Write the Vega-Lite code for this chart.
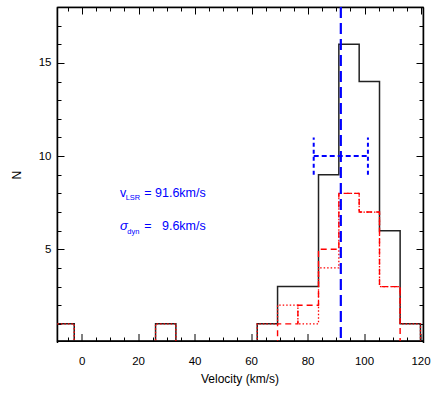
{
  "$schema": "https://vega.github.io/schema/vega-lite/v6.json",
  "width": 366,
  "height": 334,
  "autosize": "none",
  "padding": {"left": 57, "top": 7, "right": 13, "bottom": 52},
  "background": "#ffffff",
  "datasets": {
    "hist": [
      {"series": "all", "x": -10, "n": 1},
      {"series": "all", "x": -2.8, "n": 0},
      {"series": "all", "x": 26.0, "n": 1},
      {"series": "all", "x": 33.2, "n": 0},
      {"series": "all", "x": 62.0, "n": 1},
      {"series": "all", "x": 69.2, "n": 3},
      {"series": "all", "x": 76.4, "n": 3},
      {"series": "all", "x": 83.7, "n": 9},
      {"series": "all", "x": 90.9, "n": 16},
      {"series": "all", "x": 98.1, "n": 14},
      {"series": "all", "x": 105.3, "n": 6},
      {"series": "all", "x": 112.6, "n": 1},
      {"series": "all", "x": 119.8, "n": 0},
      {"series": "all", "x": 125, "n": 0},
      {"series": "dotted", "x": -10, "n": 1},
      {"series": "dotted", "x": -2.8, "n": 0},
      {"series": "dotted", "x": 26.0, "n": 1},
      {"series": "dotted", "x": 33.2, "n": 0},
      {"series": "dotted", "x": 62.0, "n": 1},
      {"series": "dotted", "x": 69.2, "n": 2},
      {"series": "dotted", "x": 76.4, "n": 1},
      {"series": "dotted", "x": 83.7, "n": 4},
      {"series": "dotted", "x": 90.9, "n": 8},
      {"series": "dotted", "x": 98.1, "n": 7},
      {"series": "dotted", "x": 105.3, "n": 3},
      {"series": "dotted", "x": 112.6, "n": 1},
      {"series": "dotted", "x": 119.8, "n": 0},
      {"series": "dotted", "x": 125, "n": 0},
      {"series": "dashed", "x": -10, "n": 0},
      {"series": "dashed", "x": 69.2, "n": 1},
      {"series": "dashed", "x": 76.4, "n": 2},
      {"series": "dashed", "x": 83.7, "n": 5},
      {"series": "dashed", "x": 90.9, "n": 8},
      {"series": "dashed", "x": 98.1, "n": 7},
      {"series": "dashed", "x": 105.3, "n": 3},
      {"series": "dashed", "x": 112.6, "n": 0},
      {"series": "dashed", "x": 125, "n": 0}
    ],
    "fit": [
      {"vlsr": 91.6, "lo": 82.0, "hi": 101.2, "n": 10, "nlo": 9, "nhi": 11}
    ]
  },
  "resolve": {"axis": {"x": "independent", "y": "independent"}},
  "layer": [
    {
      "data": {"name": "hist"},
      "transform": [{"filter": "datum.series === 'all'"}],
      "mark": {"type": "line", "interpolate": "step-after", "color": "#222222", "strokeWidth": 1.5, "clip": true},
      "encoding": {
        "x": {"field": "x", "type": "quantitative", "scale": {"domain": [-8.9, 120.7], "nice": false, "zero": false},
          "axis": {"orient": "bottom", "values": [0, 20, 40, 60, 80, 100, 120], "tickSize": -7, "labelPadding": 22, "domain": true, "domainColor": "#000", "domainWidth": 1.5, "translate": 0, "title": "Velocity (km/s)", "titlePadding": 6}},
        "y": {"field": "n", "type": "quantitative", "scale": {"domain": [0, 18], "nice": false, "range": [335.5, 0]},
          "axis": {"orient": "left", "values": [5, 10, 15], "tickSize": -7, "labelPadding": 13, "domain": true, "domainColor": "#000", "domainWidth": 1.5, "title": "N", "titlePadding": 15}}
      }
    },
    {
      "data": {"name": "hist"},
      "transform": [{"filter": "datum.series === 'dotted'"}],
      "mark": {"type": "line", "interpolate": "step-after", "color": "#ff0000", "strokeWidth": 1.3, "strokeDash": [1.5, 2], "clip": true},
      "encoding": {
        "x": {"field": "x", "type": "quantitative",
          "axis": {"orient": "bottom", "values": [-5, 5, 10, 15, 25, 30, 35, 45, 50, 55, 65, 70, 75, 85, 90, 95, 105, 110, 115], "tickSize": -4, "labels": false, "domain": false, "title": null}},
        "y": {"field": "n", "type": "quantitative",
          "axis": {"orient": "left", "values": [1, 2, 3, 4, 6, 7, 8, 9, 11, 12, 13, 14, 16, 17], "tickSize": -4, "labels": false, "domain": false, "title": null}}
      }
    },
    {
      "data": {"name": "hist"},
      "transform": [{"filter": "datum.series === 'dashed'"}],
      "mark": {"type": "line", "interpolate": "step-after", "color": "#ff0000", "strokeWidth": 1.4, "strokeDash": [6, 4], "clip": true},
      "encoding": {
        "x": {"field": "x", "type": "quantitative",
          "axis": {"orient": "top", "values": [0, 20, 40, 60, 80, 100, 120], "tickSize": -7, "labels": false, "domain": true, "domainColor": "#000", "domainWidth": 1.5, "title": null}},
        "y": {"field": "n", "type": "quantitative",
          "axis": {"orient": "right", "values": [5, 10, 15], "tickSize": -7, "labels": false, "domain": true, "domainColor": "#000", "domainWidth": 1.5, "title": null}}
      }
    },
    {
      "data": {"name": "fit"},
      "mark": {"type": "rule", "color": "#0000ff", "strokeWidth": 2, "strokeDash": [5, 3]},
      "encoding": {
        "x": {"field": "lo", "type": "quantitative",
          "axis": {"orient": "top", "values": [-5, 5, 10, 15, 25, 30, 35, 45, 50, 55, 65, 70, 75, 85, 90, 95, 105, 110, 115], "tickSize": -4, "labels": false, "domain": false, "title": null}},
        "x2": {"field": "hi"},
        "y": {"field": "n", "type": "quantitative",
          "axis": {"orient": "right", "values": [1, 2, 3, 4, 6, 7, 8, 9, 11, 12, 13, 14, 16, 17], "tickSize": -4, "labels": false, "domain": false, "title": null}}
      }
    },
    {
      "data": {"name": "fit"},
      "mark": {"type": "rule", "color": "#0000ff", "strokeWidth": 2, "strokeDash": [4, 3]},
      "encoding": {
        "x": {"field": "lo", "type": "quantitative", "axis": null},
        "y": {"field": "nlo", "type": "quantitative", "axis": null},
        "y2": {"field": "nhi"}
      }
    },
    {
      "data": {"name": "fit"},
      "mark": {"type": "rule", "color": "#0000ff", "strokeWidth": 2, "strokeDash": [4, 3]},
      "encoding": {
        "x": {"field": "hi", "type": "quantitative", "axis": null},
        "y": {"field": "nlo", "type": "quantitative", "axis": null},
        "y2": {"field": "nhi"}
      }
    },
    {
      "data": {"name": "fit"},
      "mark": {"type": "rule", "color": "#0000ff", "strokeWidth": 2.2, "strokeDash": [11, 5]},
      "encoding": {
        "x": {"field": "vlsr", "type": "quantitative", "axis": null}
      }
    },
    {
      "data": {"values": [
        {"t": "v", "x": 13.4, "y": 7.78, "kind": "main"},
        {"t": "LSR", "x": 15.4, "y": 7.64, "kind": "sub"},
        {"t": "= 91.6km/s", "x": 22.0, "y": 7.78, "kind": "main"},
        {"t": "dyn", "x": 16.0, "y": 5.8, "kind": "sub"},
        {"t": "= \u00a0\u00a09.6km/s", "x": 22.0, "y": 6.02, "kind": "main"}
      ]},
      "mark": {"type": "text", "align": "left", "baseline": "alphabetic", "color": "#0000ff", "font": "Liberation Sans"},
      "encoding": {
        "x": {"field": "x", "type": "quantitative", "axis": null},
        "y": {"field": "y", "type": "quantitative", "axis": null},
        "text": {"field": "t"},
        "size": {"field": "kind", "type": "nominal", "scale": {"domain": ["main", "sub"], "range": [12.5, 7.5]}, "legend": null}
      }
    },
    {
      "data": {"values": [{"t": "σ", "x": 13.4, "y": 6.02}]},
      "mark": {"type": "text", "align": "left", "baseline": "alphabetic", "color": "#0000ff", "font": "Liberation Sans", "fontStyle": "italic", "fontSize": 13},
      "encoding": {
        "x": {"field": "x", "type": "quantitative", "axis": null},
        "y": {"field": "y", "type": "quantitative", "axis": null},
        "text": {"field": "t"}
      }
    }
  ],
  "config": {
    "view": {"stroke": "#000000", "strokeWidth": 1.2},
    "axis": {
      "grid": false,
      "tickColor": "#000000",
      "tickWidth": 1,
      "labelColor": "#000000",
      "titleColor": "#000000",
      "labelFont": "Liberation Sans",
      "titleFont": "Liberation Sans",
      "labelFontSize": 11.5,
      "titleFontSize": 12,
      "titleFontWeight": "normal",
      "zindex": 2
    }
  }
}
